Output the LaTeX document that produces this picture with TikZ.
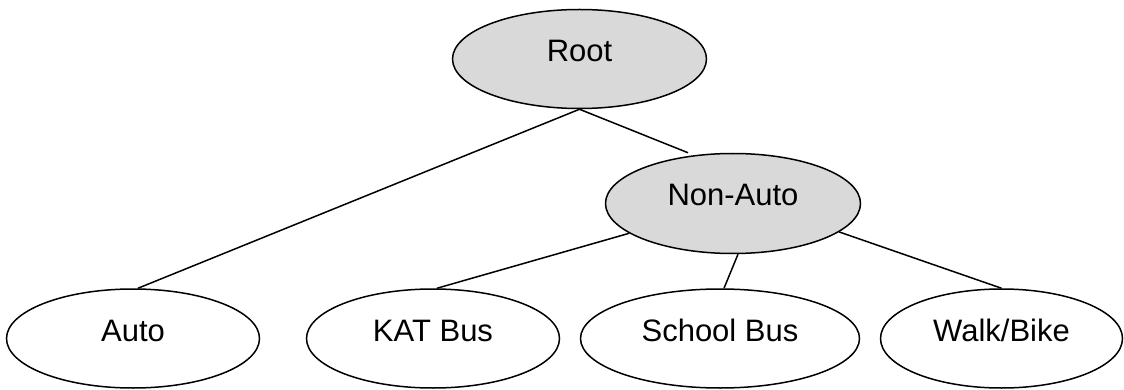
\documentclass[tikz,border=0pt]{standalone}
\usepackage{fontspec}
\setmainfont{Liberation Sans}
\usetikzlibrary{shapes.geometric}
\definecolor{nodegray}{RGB}{217,217,217}
\begin{document}
\begin{tikzpicture}[x=1pt,y=-1pt,
  ell/.style={ellipse, draw=black, line width=1.5pt, inner sep=0pt, minimum height=99pt},
  inner/.style={ell, fill=nodegray},
  leaf/.style={ell, fill=white},
  lbl/.style={anchor=base, inner sep=0pt, font=\fontsize{31}{36}\selectfont},
  edge/.style={line width=1.5pt}]
\useasboundingbox (0,0) rectangle (1124,390);

% ellipses
\node[inner, minimum width=254pt, minimum height=99pt] (root) at (579.5,59) {};
\node[inner, minimum width=255pt, minimum height=100pt] (na) at (733,203.5) {};
\node[leaf, minimum width=253pt] (auto) at (133,338.5) {};
\node[leaf, minimum width=253pt] (kat) at (433,338.5) {};
\node[leaf, minimum width=279pt] (school) at (720,338.5) {};
\node[leaf, minimum width=242pt] (walk) at (1001.5,338.5) {};

% labels
\node[lbl] (rootT) at ([yshift=-3pt]root.center) {Root};
\node[lbl] (naT) at ([yshift=-2.5pt]na.center) {Non-Auto};
\node[lbl] (autoT) at ([yshift=-3pt]auto.center) {Auto};
\node[lbl] (katT) at ([yshift=-3pt]kat.center) {KAT Bus};
\node[lbl] (schoolT) at ([yshift=-3pt]school.center) {School Bus};
\node[lbl] (walkT) at ([yshift=-3pt]walk.center) {Walk/Bike};

% connectors
\coordinate (naIn) at ([xshift=-45pt]na.north);
\draw[edge] (root.south) -- ([xshift=5pt]auto.north);
\draw[edge] (root.south) -- (naIn);
\draw[edge] (na.196) -- ([xshift=4pt]kat.north);
\draw[edge] ([xshift=5pt]na.south) -- ([xshift=4pt]school.north);
\draw[edge] (na.345) -- (walk.north);
\end{tikzpicture}
\end{document}
